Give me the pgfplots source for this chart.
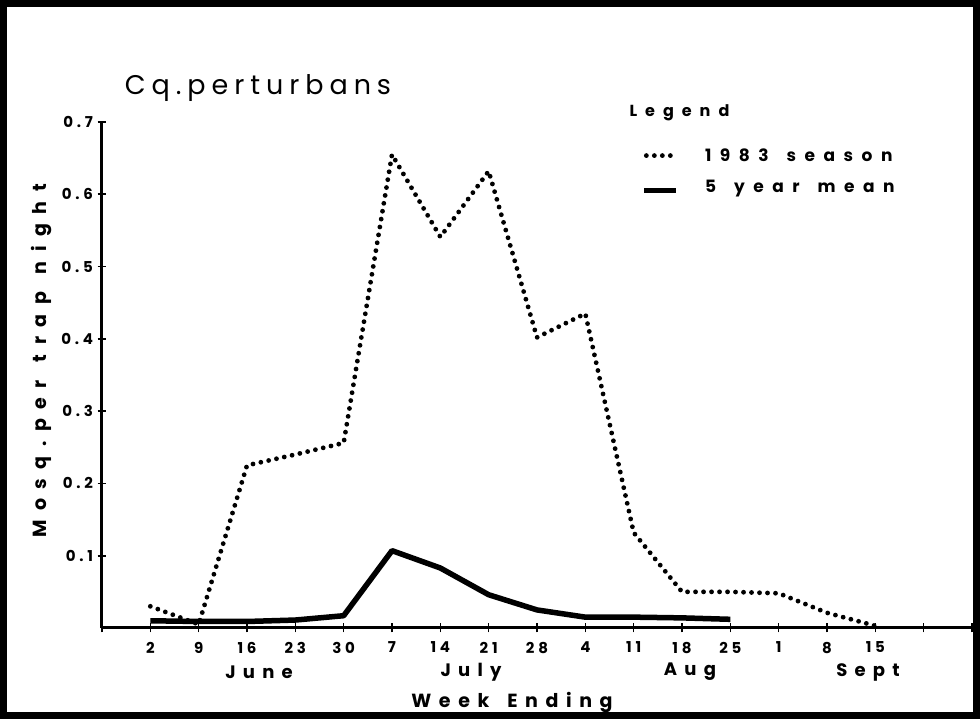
\documentclass[border=0pt]{standalone}
\usepackage{fontspec}
\setmainfont{Poppins}
\usepackage{pgfplots}
\pgfplotsset{compat=1.18}
\newfontfamily\lbl[LetterSpace=25]{Poppins}
\newfontfamily\wide[LetterSpace=40]{Poppins}
\newfontfamily\wider[LetterSpace=50]{Poppins}
\newfontfamily\ttl[LetterSpace=22]{Poppins}
\newcommand\wsp{\hspace{18pt}}
\begin{document}
\begin{tikzpicture}[x=1pt,y=1pt]
\useasboundingbox (0,0) rectangle (980,719);
\fill[white] (0,0) rectangle (980,719);
\draw[line width=7pt] (3.5,3.5) rectangle (976.5,715.5);
\begin{axis}[
  at={(102pt,91pt)}, anchor=south west,
  scale only axis, width=870pt, height=506pt,
  xmin=0, xmax=18, ymin=0, ymax=0.7,
  axis x line=bottom, axis y line=left,
  axis line style={line width=3pt,-},
  xtick={0,...,18},
  xticklabels={,2,9,16,23,30,7,14,21,28,4,11,18,25,1,8,15,,},
  ytick={0.1,0.2,0.3,0.4,0.5,0.6,0.7},
  yticklabels={0.1,0.2,0.3,0.4,0.5,0.6,0.7},
  tick align=center, major tick length=9pt,
  tick style={line width=1.6pt,black},
  xticklabel style={font=\fontsize{15}{15}\selectfont\lbl\bfseries, yshift=-6pt},
  yticklabel style={font=\fontsize{15}{15}\selectfont\lbl\bfseries, xshift=-1pt},
  clip=false,
  legend style={at={(rel axis cs:0.62,0.952)}, anchor=north west, draw=none, fill=none,
    font=\fontsize{17}{17}\selectfont\wider\bfseries, row sep=13pt,
    legend cell align=left, inner sep=0pt},
]
\addplot[black, line width=4.8pt, dash pattern=on 0pt off 8pt, line cap=round,
  legend image code/.code={\draw[black, line width=4.8pt, dash pattern=on 0pt off 8pt, line cap=round] (4pt,0pt) -- (34pt,0pt);}]
coordinates {(1,0.03)(2,0.005)(3,0.225)(4,0.24)(5,0.256)(6,0.655)(7,0.541)(8,0.632)(9,0.402)(10,0.435)(11,0.132)(12,0.05)(13,0.05)(14,0.048)(15,0.021)(16,0.003)};
\addlegendentry{\hspace{24pt}1983\wsp season}
\addplot[black, line width=5.5pt, line join=round,
  legend image code/.code={\draw[black, line width=5.5pt] (2pt,-4pt) -- (34pt,-4pt);}]
coordinates {(1,0.01)(2,0.009)(3,0.009)(4,0.011)(5,0.017)(6,0.107)(7,0.083)(8,0.046)(9,0.025)(10,0.015)(11,0.015)(12,0.014)(13,0.012)};
\addlegendentry{\hspace{24pt}5\wsp year\wsp mean}
\end{axis}
\node[anchor=center, font=\fontsize{27}{27}\selectfont\ttl] at (258,631) {Cq.perturbans};
\node[anchor=west, font=\fontsize{16}{16}\selectfont\wider\bfseries] at (626,606) {Legend};
\node[font=\fontsize{18}{18}\selectfont\wide\bfseries] at (259,47) {June};
\node[font=\fontsize{18}{18}\selectfont\wide\bfseries] at (471,47) {July};
\node[font=\fontsize{18}{18}\selectfont\wide\bfseries] at (690,47) {Aug};
\node[font=\fontsize{18}{18}\selectfont\wide\bfseries] at (868,47) {Sept};
\node[font=\fontsize{19}{19}\selectfont\wide\bfseries] at (512,16) {Week\wsp Ending};
\node[rotate=90, font=\fontsize{19}{19}\selectfont\wider\bfseries] at (42,358) {Mosq.per\wsp trap\wsp night};
\end{tikzpicture}
\end{document}
